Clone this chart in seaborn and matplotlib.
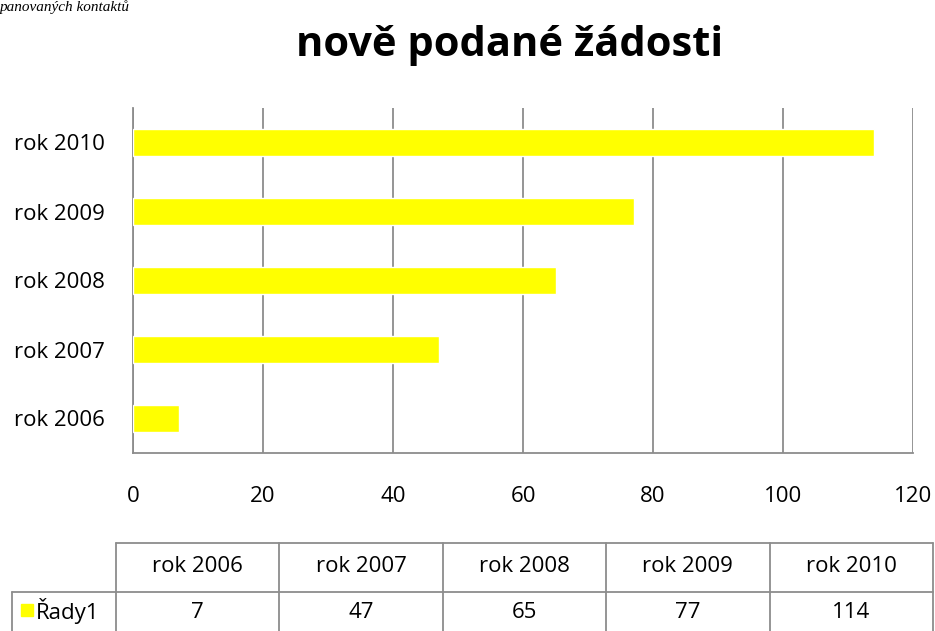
import matplotlib

matplotlib.use("Agg")
import matplotlib.pyplot as plt
import pandas as pd
import seaborn as sns

CATEGORIES = ["rok 2006", "rok 2007", "rok 2008", "rok 2009", "rok 2010"]
VALUES = [7, 47, 65, 77, 114]
SERIES = "Řady1"
TITLE = "nově podané žádosti"
X_TICKS = [0, 20, 40, 60, 80, 100, 120]

W, H = 935, 631
YELLOW = "#FFFF00"
GRID = "#8c8c8c"
FONT = "Open Sans"
FS = 16

sns.set_theme(style="white")
plt.rcParams["font.family"] = [FONT, "DejaVu Sans"]
plt.rcParams["text.color"] = "black"
plt.rcParams["xtick.color"] = "black"
plt.rcParams["ytick.color"] = "black"

df = pd.DataFrame({"rok": CATEGORIES, "pocet": VALUES})

fig = plt.figure(figsize=(W / 100, H / 100), dpi=100)
ax = fig.add_axes([133 / W, (H - 453) / H, (913 - 133) / W, (453 - 108) / H])

sns.barplot(data=df, x="pocet", y="rok", order=CATEGORIES[::-1], color=YELLOW,
            saturation=1, width=0.4, orient="h", ax=ax, zorder=3)

ax.set_xlim(0, 120)
ax.set_xticks(X_TICKS)
ax.set_xticklabels([str(t) for t in X_TICKS], fontsize=FS)
ax.tick_params(axis="x", pad=24, length=0)
ax.tick_params(axis="y", pad=20, length=0, labelsize=FS)
ax.set_xlabel("")
ax.set_ylabel("")
ax.grid(axis="x", color=GRID, lw=1.3, zorder=0)
for side in ["top", "right"]:
    ax.spines[side].set_visible(False)
for side in ["left", "bottom"]:
    ax.spines[side].set_color(GRID)
    ax.spines[side].set_linewidth(1.3)

fig.text(510 / W, 1 - 45 / H, TITLE, ha="center", va="center",
         fontsize=30, fontweight="bold")
# caption line left over from the page above the chart
fig.text(0, 1, "panovaných kontaktů", ha="left", va="top",
         fontsize=11, style="italic", family="Liberation Serif")

# data table under the chart, laid out in pixel coordinates
tab = fig.add_axes([0, 0, 1, 1], zorder=-1)
tab.set_xlim(0, W)
tab.set_ylim(H, 0)
tab.axis("off")

col_edges = [116 + i * 163.4 for i in range(len(CATEGORIES) + 1)]
row_top, row_mid, row_bot = 543, 592, 640
lc = dict(color=GRID, lw=1.3)
tab.plot([col_edges[0], col_edges[-1]], [row_top, row_top], **lc)
tab.plot([12, col_edges[-1]], [row_mid, row_mid], **lc)
tab.plot([12, 12], [row_mid, row_bot], **lc)
for x in col_edges:
    tab.plot([x, x], [row_top, row_bot], **lc)

for i, (cat, val) in enumerate(zip(CATEGORIES, VALUES)):
    cx = (col_edges[i] + col_edges[i + 1]) / 2
    tab.text(cx, 567, cat, ha="center", va="center", fontsize=FS)
    tab.text(cx, 612, str(val), ha="center", va="center", fontsize=FS)

tab.add_patch(plt.Rectangle((21, 604), 12, 12, color=YELLOW))
tab.text(36, 611, SERIES, ha="left", va="center", fontsize=FS)

fig.savefig("out.png", dpi=100)
